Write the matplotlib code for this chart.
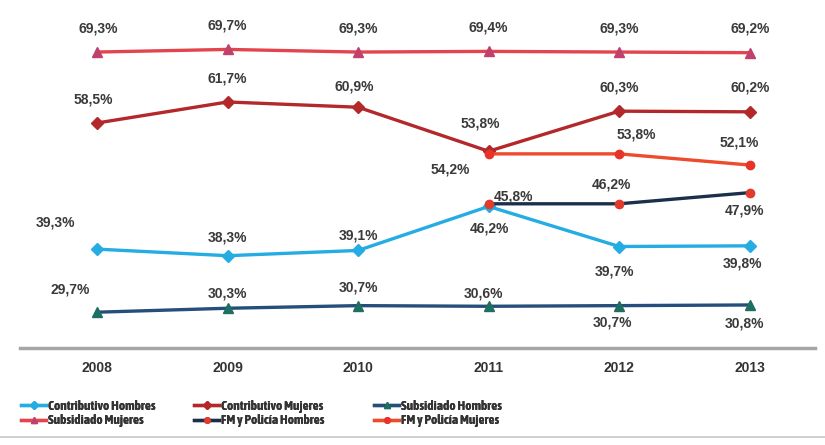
import matplotlib
matplotlib.use("Agg")
from matplotlib import pyplot
from matplotlib.lines import Line2D
from matplotlib import font_manager

years = [2008, 2009, 2010, 2011, 2012, 2013]
fm_years = [2011, 2012, 2013]

contributivo_hombres = [39.3, 38.3, 39.1, 45.8, 39.7, 39.8]
contributivo_mujeres = [58.5, 61.7, 60.9, 54.2, 60.3, 60.2]
subsidiado_hombres = [29.7, 30.3, 30.7, 30.6, 30.7, 30.8]
subsidiado_mujeres = [69.3, 69.7, 69.3, 69.4, 69.3, 69.2]
fm_hombres = [46.2, 46.2, 47.9]
fm_mujeres = [53.8, 53.8, 52.1]

# label offsets in pixels (dx, dy) for each point
ch_off = [(-42, 27), (0, 18), (0, 15), (25, 10), (-5, -25), (-7, -18)]
cm_off = [(-4, 23), (0, 23), (-4, 21), (-38, -18), (0, 24), (0, 24)]
sh_off = [(-27, 23), (0, 15), (0, 18), (-5, 13), (-7, -17), (-5, -19)]
sm_off = [(1, 24), (0, 24), (0, 24), (0, 24), (0, 24), (0, 24)]
fmh_off = [(1, -25), (-8, 19), (-5, -18)]
fmm_off = [(-8, 30), (17, 19), (-10, 23)]

font = ['Liberation Sans', 'DejaVu Sans']
pyplot.rcParams['font.family'] = font
pyplot.rcParams['font.weight'] = 'bold'

# bold narrow face for the legend, if one is installed
leg_prop = {'family': font, 'weight': 'bold', 'size': 9}
for f in font_manager.fontManager.ttflist:
    if ('Narrow' in f.name or 'Condensed' in f.name) and f.weight in ('bold', 700):
        leg_prop = font_manager.FontProperties(fname=f.fname, size=9.6)
        break

fig = pyplot.figure(figsize=(8.25, 4.45), dpi=100)
ax = fig.add_axes([20 / 825, 1 - 348 / 445, 795 / 825, 338 / 445])

series = [
    ("Contributivo Hombres", years, contributivo_hombres, ch_off, '#25ACE3', 'D', '#25ACE3', 6),
    ("Contributivo Mujeres", years, contributivo_mujeres, cm_off, '#B3282A', 'D', '#B3282A', 6),
    ("Subsidiado Hombres", years, subsidiado_hombres, sh_off, '#254E7A', '^', '#1E6E62', 7),
    ("Subsidiado Mujeres", years, subsidiado_mujeres, sm_off, '#E2454E', '^', '#C0406E', 7),
    ("FM y Policía Hombres", fm_years, fm_hombres, fmh_off, '#1B2F4D', 'o', '#E23A2C', 6),
    ("FM y Policía Mujeres", fm_years, fm_mujeres, fmm_off, '#EE4A2C', 'o', '#E8332A', 6),
]

handles = {}
for name, xs, ys, offs, color, marker, mcolor, ms in series:
    ax.plot(xs, ys, color=color, lw=2.4, marker=marker, markersize=ms,
            markerfacecolor=mcolor, markeredgecolor=mcolor, label=name)
    handles[name] = Line2D([], [], color=color, lw=2.4, marker=marker, markersize=4,
                           markerfacecolor=mcolor, markeredgecolor=mcolor)
    for x, y, (dx, dy) in zip(xs, ys, offs):
        ax.annotate(f"{y:.1f}%".replace('.', ','), (x, y), xytext=(dx, dy),
                    textcoords='offset pixels', ha='center', va='center',
                    fontsize=10, fontweight='bold', color='#3A3A3A')

ax.set_xlim(2007.41, 2013.5)
ax.set_ylim(24.25, 75.7)
ax.set_yticks([])
ax.set_xticks(years)
ax.set_xticklabels([str(y) for y in years], fontsize=10, fontweight='bold', color='#333333')
ax.tick_params(axis='x', length=0, pad=9)
for side in ['top', 'left', 'right']:
    ax.spines[side].set_visible(False)
ax.spines['bottom'].set_color('#A6A6A6')
ax.spines['bottom'].set_linewidth(2.5)

# three legend columns placed like the original
columns = [
    (["Contributivo Hombres", "Subsidiado Mujeres"], 9),
    (["Contributivo Mujeres", "FM y Policía Hombres"], 182),
    (["Subsidiado Hombres", "FM y Policía Mujeres"], 362),
]
for names, xpix in columns:
    leg = fig.legend([handles[n] for n in names], names, ncol=1, loc='upper left',
                     bbox_to_anchor=(xpix / 825, 1 - 388 / 445), frameon=False,
                     prop=leg_prop, handlelength=1.9, handletextpad=0.15,
                     labelspacing=0.1, labelcolor='#333333')
    fig.add_artist(leg)

fig.add_artist(Line2D([0.0, 1.0], [1 - 437 / 445] * 2, color='#C8C8C8', lw=1.2,
                      transform=fig.transFigure))

fig.savefig("out.png", dpi=100)
